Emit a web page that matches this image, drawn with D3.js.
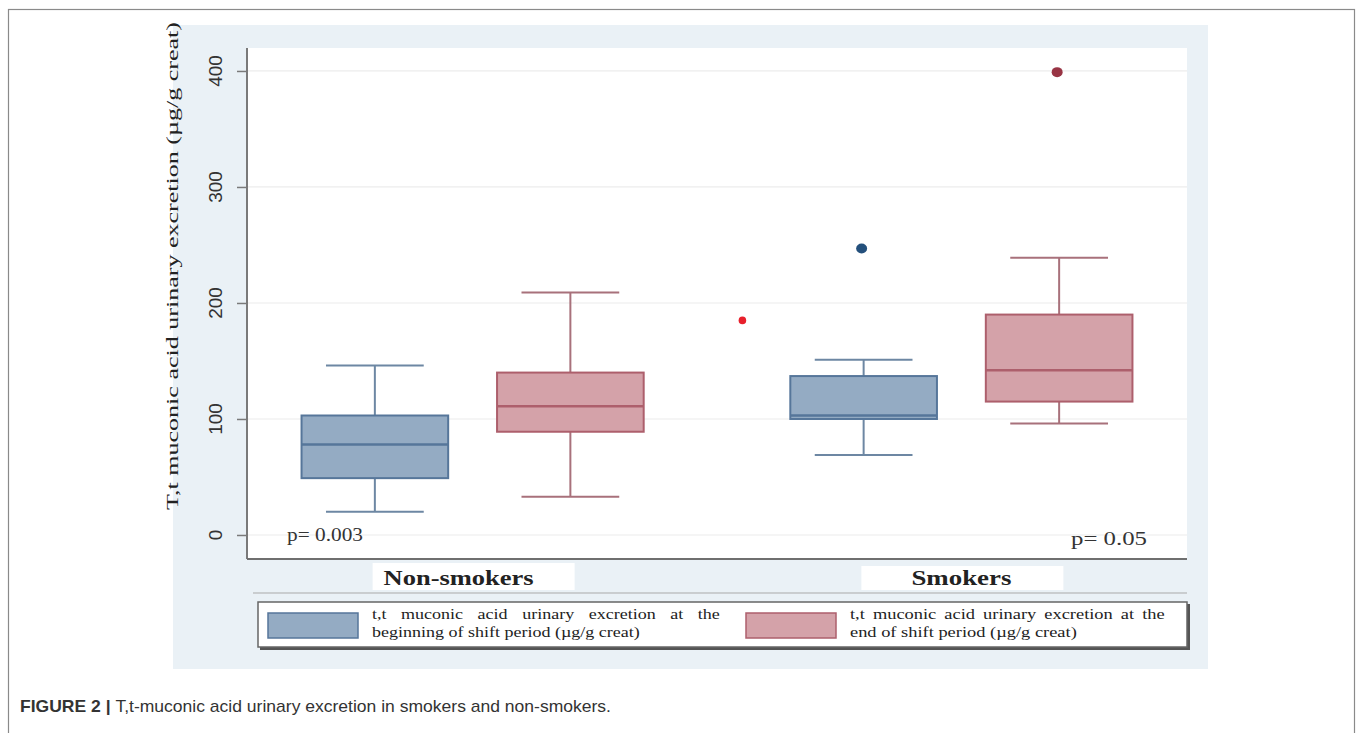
<!DOCTYPE html>
<html>
<head>
<meta charset="utf-8">
<script src="https://cdn.jsdelivr.net/npm/d3@7"></script>
<style>
  body { margin: 0; background: #fff; }
  svg { display: block; }
</style>
</head>
<body>
<div id="content"></div>
<script>
// boxes in order: Non-smokers/begin, Non-smokers/end, Smokers/begin, Smokers/end
var groups = ["Non-smokers", "Smokers"];
var periods = ["begin", "end"];
var whiskerLow = [20, 33, 69, 96];
var q1Values = [49, 89, 100, 115];
var medianValues = [78, 111, 103, 142];
var q3Values = [103, 140, 137, 190];
var whiskerHigh = [146, 209, 151, 239];
var outliers = [
  {group: "Smokers", period: "begin", value: 247},
  {group: "Smokers", period: "end", value: 399}
];
var strayPoints = [185];
var yTicks = [0, 100, 200, 300, 400];
var pLabels = ["p= 0.003", "p= 0.05"];
var legendLines = [
  ["t,t muconic acid urinary excretion at the", "beginning of shift period (\u00b5g/g creat)"],
  ["t,t muconic acid urinary excretion at the", "end of shift period (\u00b5g/g creat)"]
];
var yTitle = "T,t muconic acid urinary excretion (\u00b5g/g creat)";
var caption = "T,t-muconic acid urinary excretion in smokers and non-smokers.";

var fills = {begin: "#94abc3", end: "#d4a2a9"};
var strokes = {begin: "#56769a", end: "#ad5f6c"};
var whiskerColors = {begin: "#6d87a3", end: "#a8717b"};
var outlierColors = {begin: "#24507c", end: "#983444"};
var serif = "Liberation Serif, Times New Roman, serif";

var W = 1360, H = 733;
var svg = d3.select("#content").append("svg")
  .attr("width", W).attr("height", H);

// outer figure frame
svg.append("rect")
  .attr("x", 8.5).attr("y", 9.5).attr("width", 1346).attr("height", 740)
  .attr("fill", "none").attr("stroke", "#8a8a8a").attr("stroke-width", 1.2);

// light blue chart panel
svg.append("rect")
  .attr("x", 173).attr("y", 25).attr("width", 1035).attr("height", 644)
  .attr("fill", "#eaf1f6");

var plotL = 247, plotR = 1187, plotT = 48, plotB = 559;

svg.append("rect")
  .attr("x", plotL).attr("y", plotT).attr("width", plotR - plotL).attr("height", plotB - plotT)
  .attr("fill", "#ffffff");

var y = d3.scaleLinear().domain([-20.7, 419.8]).range([plotB, plotT]);

var xGroup = d3.scaleBand().domain(groups).range([plotL, plotR])
  .paddingInner(0.2).paddingOuter(0.0616);
var xSub = d3.scaleBand().domain(periods).range([0, xGroup.bandwidth()]);
var boxW = xSub.bandwidth() * 0.75;
var capW = xSub.bandwidth() * 0.5;

function cx(g, p) { return xGroup(g) + xSub(p) + xSub.bandwidth() / 2; }

// grid lines
svg.append("g").selectAll("line").data(yTicks).join("line")
  .attr("x1", plotL).attr("x2", plotR)
  .attr("y1", function(d){ return y(d); }).attr("y2", function(d){ return y(d); })
  .attr("stroke", "#ececec").attr("stroke-width", 1.2);

// y axis
var yAxis = svg.append("g")
  .attr("transform", "translate(" + plotL + ",0)")
  .call(d3.axisLeft(y).tickValues(yTicks).tickSize(10).tickPadding(0).tickFormat(""));
yAxis.select(".domain").attr("stroke", "#7a7a7a").attr("stroke-width", 2)
  .attr("d", "M0," + plotT + "V" + plotB);
yAxis.selectAll(".tick line").attr("stroke", "#7a7a7a").attr("stroke-width", 1.5);

svg.append("g").selectAll("text").data(yTicks).join("text")
  .attr("transform", function(d){ return "translate(222," + y(d) + ") rotate(-90)"; })
  .attr("text-anchor", "middle")
  .attr("font-family", "Liberation Sans, Arial, sans-serif")
  .attr("font-size", 19)
  .attr("fill", "#333")
  .text(function(d){ return d; });

svg.append("text")
  .attr("transform", "translate(178,266) rotate(-90)")
  .attr("text-anchor", "middle")
  .attr("font-family", serif)
  .attr("font-size", 17)
  .attr("fill", "#222")
  .attr("textLength", 488).attr("lengthAdjust", "spacingAndGlyphs")
  .text(yTitle);

// x axis line
svg.append("line")
  .attr("x1", plotL).attr("x2", plotR).attr("y1", plotB).attr("y2", plotB)
  .attr("stroke", "#6f6f6f").attr("stroke-width", 2);

// boxes
var boxes = [];
groups.forEach(function(g, gi){
  periods.forEach(function(p, pi){
    var i = gi * 2 + pi;
    boxes.push({group: g, period: p, lo: whiskerLow[i], q1: q1Values[i],
      med: medianValues[i], q3: q3Values[i], hi: whiskerHigh[i]});
  });
});

var bx = svg.append("g").selectAll("g").data(boxes).join("g");

bx.append("line")
  .attr("x1", function(d){ return cx(d.group, d.period); })
  .attr("x2", function(d){ return cx(d.group, d.period); })
  .attr("y1", function(d){ return y(d.hi); })
  .attr("y2", function(d){ return y(d.lo); })
  .attr("stroke", function(d){ return whiskerColors[d.period]; }).attr("stroke-width", 2);

bx.selectAll("line.cap").data(function(d){ return [[d, d.hi], [d, d.lo]]; }).join("line")
  .attr("class", "cap")
  .attr("x1", function(c){ return cx(c[0].group, c[0].period) - capW / 2; })
  .attr("x2", function(c){ return cx(c[0].group, c[0].period) + capW / 2; })
  .attr("y1", function(c){ return y(c[1]); })
  .attr("y2", function(c){ return y(c[1]); })
  .attr("stroke", function(c){ return whiskerColors[c[0].period]; }).attr("stroke-width", 2);

bx.append("rect")
  .attr("x", function(d){ return cx(d.group, d.period) - boxW / 2; })
  .attr("y", function(d){ return y(d.q3); })
  .attr("width", boxW)
  .attr("height", function(d){ return y(d.q1) - y(d.q3); })
  .attr("fill", function(d){ return fills[d.period]; })
  .attr("stroke", function(d){ return strokes[d.period]; }).attr("stroke-width", 2);

bx.append("line")
  .attr("x1", function(d){ return cx(d.group, d.period) - boxW / 2; })
  .attr("x2", function(d){ return cx(d.group, d.period) + boxW / 2; })
  .attr("y1", function(d){ return y(d.med); })
  .attr("y2", function(d){ return y(d.med); })
  .attr("stroke", function(d){ return strokes[d.period]; }).attr("stroke-width", 2.5);

// outliers
svg.append("g").selectAll("ellipse").data(outliers).join("ellipse")
  .attr("cx", function(d){ return cx(d.group, d.period) - 2; })
  .attr("cy", function(d){ return y(d.value); })
  .attr("rx", 5.5).attr("ry", 5)
  .attr("fill", function(d){ return outlierColors[d.period]; });

// small red point sitting in the gap between groups
var gapStart = xGroup(groups[0]) + xGroup.bandwidth();
var gapEnd = xGroup(groups[1]);
svg.append("g").selectAll("circle").data(strayPoints).join("circle")
  .attr("cx", gapStart + (gapEnd - gapStart) * 0.76)
  .attr("cy", function(d){ return y(d); })
  .attr("r", 3.8)
  .attr("fill", "#e8202c");

// p-values
svg.append("g").selectAll("text").data(pLabels).join("text")
  .attr("x", function(d, i){ return i === 0 ? plotL + 40 : plotR - 40; })
  .attr("y", function(d, i){ return i === 0 ? 541 : 545; })
  .attr("text-anchor", function(d, i){ return i === 0 ? "start" : "end"; })
  .attr("font-family", serif)
  .attr("font-size", 18)
  .attr("fill", "#333")
  .attr("textLength", 76).attr("lengthAdjust", "spacingAndGlyphs")
  .text(function(d){ return d; });

// category labels with white backing boxes
var cats = svg.append("g").selectAll("g").data(groups).join("g")
  .attr("transform", function(d){ return "translate(" + (xGroup(d) + xGroup.bandwidth() / 2) + ",0)"; });
cats.append("rect")
  .attr("x", -100).attr("y", function(d, i){ return i === 0 ? 563 : 566; })
  .attr("width", 202).attr("height", function(d, i){ return i === 0 ? 27 : 24; })
  .attr("fill", "#ffffff");
cats.append("text")
  .attr("x", function(d, i){ return i === 0 ? -14 : 0; })
  .attr("y", 585)
  .attr("text-anchor", "middle")
  .attr("font-family", serif)
  .attr("font-weight", "bold")
  .attr("font-size", 21)
  .attr("fill", "#222")
  .attr("textLength", function(d, i){ return i === 0 ? 150 : 100; })
  .attr("lengthAdjust", "spacingAndGlyphs")
  .text(function(d){ return d; });

// separator line above legend
svg.append("line")
  .attr("x1", 253).attr("x2", plotR).attr("y1", 593).attr("y2", 593)
  .attr("stroke", "#a9a9a9").attr("stroke-width", 1);

// legend
var lg = svg.append("g");
lg.append("rect")
  .attr("x", 260).attr("y", 604).attr("width", 930).attr("height", 46)
  .attr("fill", "#555");
lg.append("rect")
  .attr("x", 258).attr("y", 602).attr("width", 929).attr("height", 45)
  .attr("fill", "#ffffff").attr("stroke", "#666").attr("stroke-width", 1.5);

var items = lg.selectAll("g.item").data(periods).join("g")
  .attr("class", "item")
  .attr("transform", function(d, i){ return "translate(" + (i === 0 ? 268 : 746) + ",0)"; });
items.append("rect")
  .attr("x", 0).attr("y", 613).attr("width", 90).attr("height", 25)
  .attr("fill", function(d){ return fills[d]; })
  .attr("stroke", function(d){ return strokes[d]; }).attr("stroke-width", 1.5);

// legend text: narrow-looking serif, first line justified by word spacing
var lineTargets = [[348, 268], [315, 227]];
items.each(function(d, i){
  var g = d3.select(this).append("g").attr("transform", "translate(104,0)");
  var t2 = g.append("text")
    .attr("x", 0).attr("y", 637)
    .attr("font-family", serif).attr("font-size", 15).attr("fill", "#222")
    .text(legendLines[i][1]);
  var sx = lineTargets[i][1] / t2.node().getComputedTextLength();
  var t1 = g.append("text")
    .attr("x", 0).attr("y", 619)
    .attr("font-family", serif).attr("font-size", 15).attr("fill", "#222")
    .text(legendLines[i][0]);
  var natural = t1.node().getComputedTextLength();
  var gaps = legendLines[i][0].split(" ").length - 1;
  var ws = (lineTargets[i][0] / sx - natural) / gaps;
  t1.attr("word-spacing", ws);
  g.attr("transform", "translate(104,0) scale(" + sx + ",1)");
});

// caption
var cap = svg.append("text")
  .attr("x", 20).attr("y", 712)
  .attr("font-family", "Liberation Sans, Arial, sans-serif")
  .attr("font-size", 17).attr("fill", "#333")
  .attr("textLength", 591).attr("lengthAdjust", "spacingAndGlyphs");
cap.append("tspan").attr("font-weight", "bold").text("FIGURE 2 | ");
cap.append("tspan").text(caption);
</script>
</body>
</html>
